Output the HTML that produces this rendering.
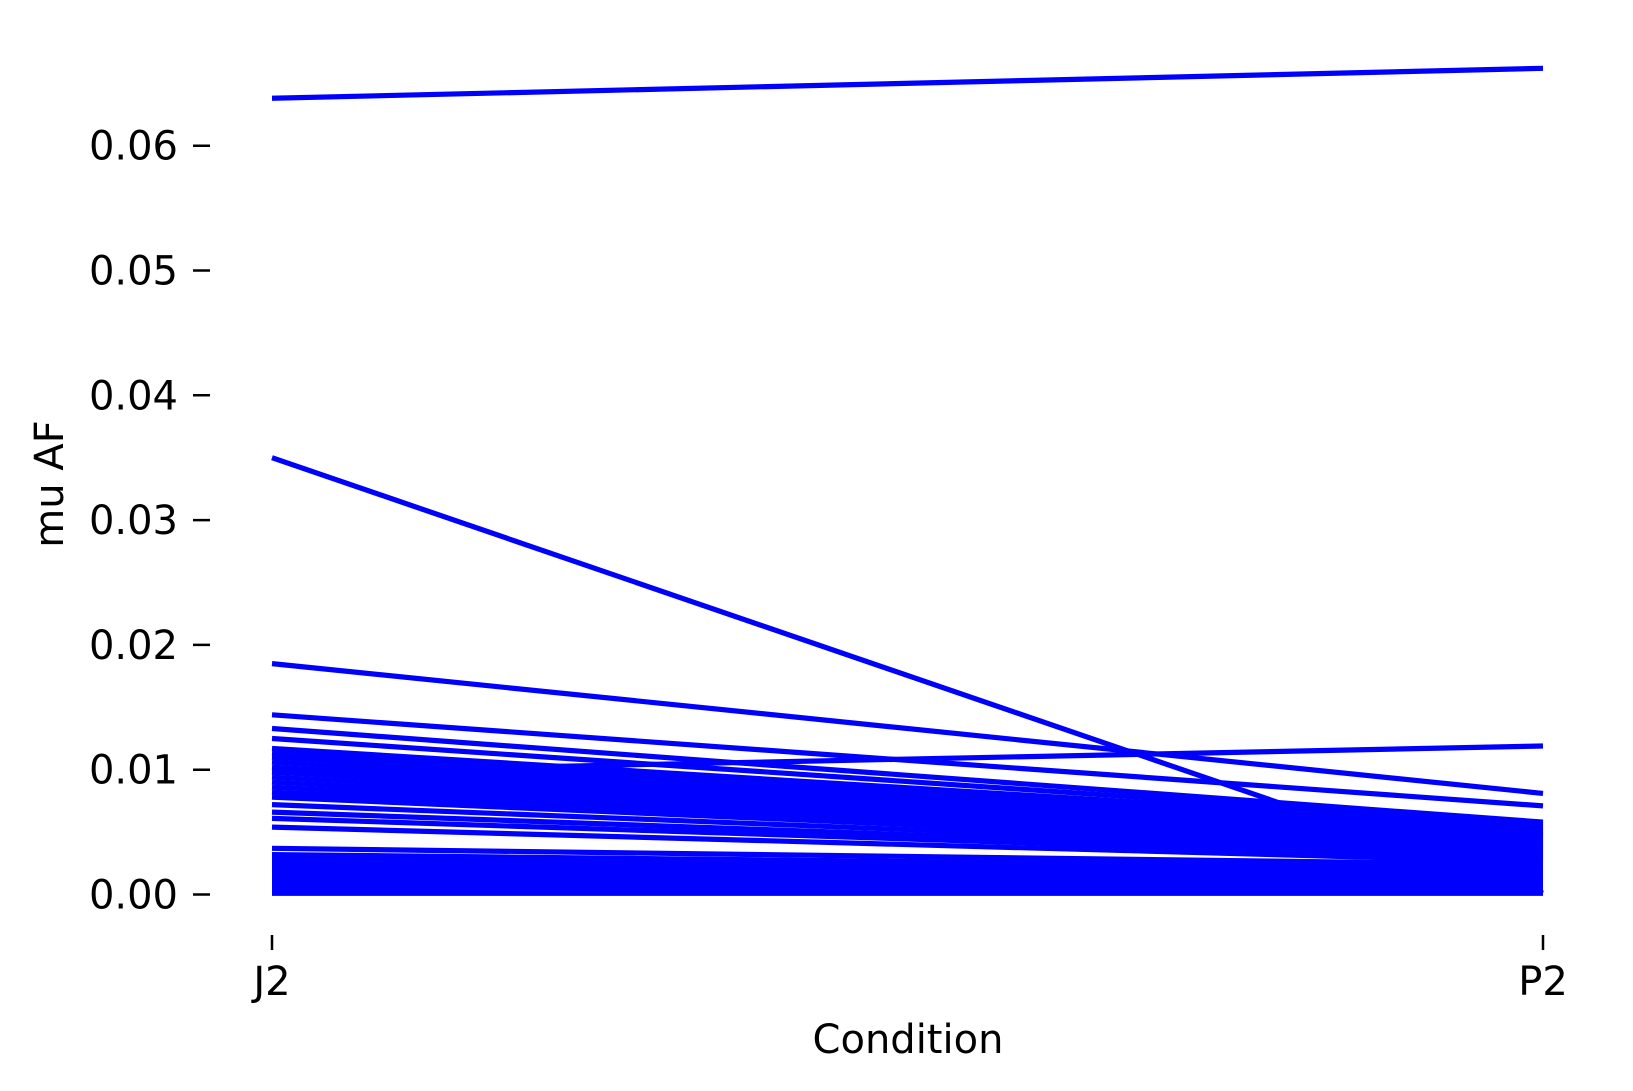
<!DOCTYPE html>
<html><head><meta charset="utf-8"><style>
html,body{margin:0;padding:0;background:#fff}
svg{display:block}
text{font-family:"DejaVu Sans","Liberation Sans",sans-serif;fill:#000}
</style></head><body>
<svg id="chart" width="1633" height="1091" viewBox="0 0 1633 1091" xmlns="http://www.w3.org/2000/svg">
<g id="ticks"></g>
<g id="lines"></g>
<text x="908" y="1053" font-size="40" text-anchor="middle">Condition</text>
<text x="0" y="0" font-size="40" text-anchor="middle" transform="translate(63,484) rotate(-90)">mu AF</text>
</svg>
<script>
const categories = ["J2","P2"];
const yTicks = [0,0.01,0.02,0.03,0.04,0.05,0.06];
const yTickLabels = ["0.00","0.01","0.02","0.03","0.04","0.05","0.06"];
const startValues = [0.0638,0.0350,0.0185,0.0098,0.0144,0.0133,0.0125,0.0117,0.0113,0.0110,0.0106,0.0102,0.0098,0.0094,0.0090,0.0086,0.0082,0.0078,0.0072,0.0066,0.0061,0.0054,0.0037,0.0032,0.0030,0.0027,0.0024,0.0021,0.0018,0.0015,0.0012,0.0009,0.0006,0.0004,0.0002,0.0001];
const endValues   = [0.0662,0.0001,0.0081,0.0119,0.0071,0.0058,0.0056,0.0054,0.0052,0.0050,0.0048,0.0046,0.0044,0.0042,0.0040,0.0038,0.0036,0.0034,0.0032,0.0030,0.0028,0.0026,0.0024,0.0021,0.0019,0.0017,0.0015,0.0013,0.0011,0.0009,0.0007,0.0005,0.0004,0.0003,0.0002,0.0001];
const NS="http://www.w3.org/2000/svg";
function xPos(i){return 272 + i*(1543-272);}
function yPos(v){return 894.5 - v*12480;}
const tg=document.getElementById('ticks');
yTicks.forEach((t,i)=>{
  const l=document.createElementNS(NS,'line');
  
  
  l.setAttribute('x1',193);l.setAttribute('x2',210);
  l.setAttribute('y1',yPos(t));l.setAttribute('y2',yPos(t));
  l.setAttribute('stroke','#000');l.setAttribute('stroke-width','2.5');
  tg.appendChild(l);
  const tx=document.createElementNS(NS,'text');
  
  
  tx.setAttribute('x',178);tx.setAttribute('y',yPos(t)+14);
  tx.setAttribute('font-size','40');tx.setAttribute('text-anchor','end');
  tx.textContent=yTickLabels[i];
  tg.appendChild(tx);
});
categories.forEach((c,i)=>{
  const l=document.createElementNS(NS,'line');
  
  
  l.setAttribute('x1',xPos(i));l.setAttribute('x2',xPos(i));
  l.setAttribute('y1',935);l.setAttribute('y2',950);
  l.setAttribute('stroke','#000');l.setAttribute('stroke-width','2.5');
  tg.appendChild(l);
  const tx=document.createElementNS(NS,'text');
  
  
  tx.setAttribute('x',xPos(i));tx.setAttribute('y',995);
  tx.setAttribute('font-size','40');tx.setAttribute('text-anchor','middle');
  tx.textContent=c;
  tg.appendChild(tx);
});
const lg=document.getElementById('lines');
startValues.forEach((s,i)=>{
  const l=document.createElementNS(NS,'line');
  
  
  l.setAttribute('x1',xPos(0));l.setAttribute('y1',yPos(s));
  l.setAttribute('x2',xPos(1));l.setAttribute('y2',yPos(endValues[i]));
  l.setAttribute('stroke','#0000ff');l.setAttribute('stroke-width','5.2');
  lg.appendChild(l);
});
</script>
</body></html>
